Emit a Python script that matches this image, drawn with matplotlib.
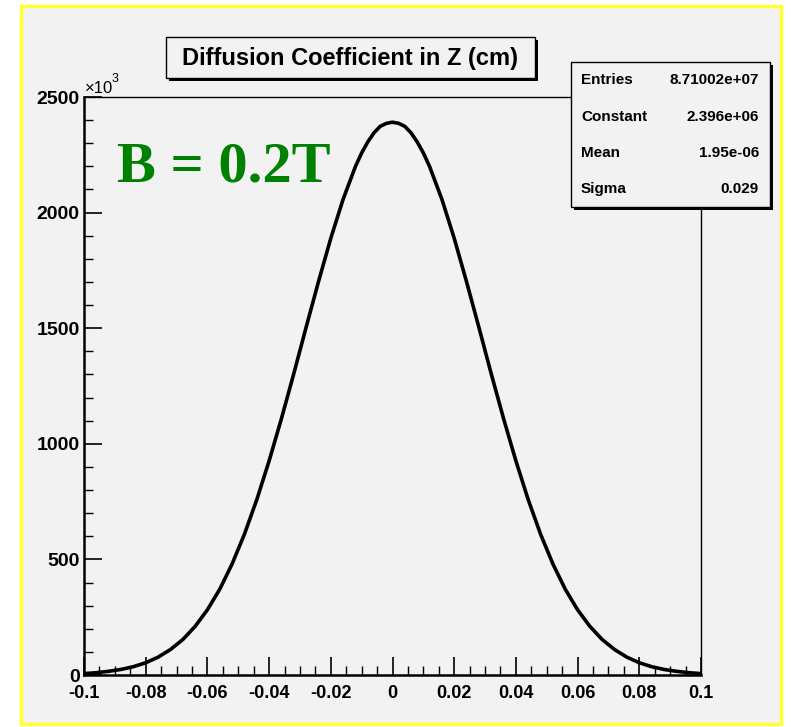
import matplotlib
matplotlib.use('Agg')
import matplotlib.pyplot as plt
from matplotlib.patches import Rectangle
from matplotlib.ticker import MultipleLocator

# ---- data ----
z_cm = [-0.100, -0.096, -0.092, -0.088, -0.084, -0.080, -0.076, -0.072, -0.068,
        -0.064, -0.060, -0.056, -0.052, -0.048, -0.044, -0.040, -0.036, -0.032,
        -0.028, -0.024, -0.020, -0.016, -0.012, -0.010, -0.008, -0.006, -0.004,
        -0.002, 0.000, 0.002, 0.004, 0.006, 0.008, 0.010, 0.012, 0.016, 0.020,
        0.024, 0.028, 0.032, 0.036, 0.040, 0.044, 0.048, 0.052, 0.056, 0.060,
        0.064, 0.068, 0.072, 0.076, 0.080, 0.084, 0.088, 0.092, 0.096, 0.100]
counts_k = [6, 10, 16, 24, 36, 53, 77, 110, 153,
            210, 282, 371, 480, 609, 758, 926, 1109, 1303,
            1504, 1701, 1889, 2058, 2200, 2258, 2306, 2345, 2373,
            2386, 2391, 2386, 2373, 2345, 2306, 2258, 2200, 2058, 1889,
            1701, 1504, 1303, 1109, 926, 758, 609, 480, 371, 282,
            210, 153, 110, 77, 53, 36, 24, 16, 10, 6]

x_ticks = [-0.1, -0.08, -0.06, -0.04, -0.02, 0.0, 0.02, 0.04, 0.06, 0.08, 0.1]
x_tick_labels = ['-0.1', '-0.08', '-0.06', '-0.04', '-0.02', '0',
                 '0.02', '0.04', '0.06', '0.08', '0.1']
y_ticks = [0, 500, 1000, 1500, 2000, 2500]
y_tick_labels = ['0', '500', '1000', '1500', '2000', '2500']

title = 'Diffusion Coefficient in Z (cm)'
stat_names = ['Entries', 'Constant', 'Mean', 'Sigma']
stat_values = ['8.71002e+07', '2.396e+06', '1.95e-06', '0.029']
annotation = 'B = 0.2T'

# ---- layout ----
W, H = 791, 727
BG = '#f2f2f2'
SANS = ['Liberation Sans', 'DejaVu Sans']


def fx(x):
    return x / W


def fy(y):
    return 1 - y / H


fig = plt.figure(figsize=(W / 100, H / 100), dpi=100, facecolor='white')

# yellow-bordered canvas
fig.patches.append(Rectangle((fx(21), fy(724)), (781 - 21) / W, (724 - 6) / H,
                             transform=fig.transFigure, facecolor=BG,
                             edgecolor='#ffff33', lw=2.5, zorder=-5))

ax = fig.add_axes([fx(84), fy(675), (701 - 84) / W, (675 - 97) / H])
ax.set_facecolor(BG)
ax.plot(z_cm, counts_k, color='black', lw=2.6, solid_joinstyle='round', zorder=3)
ax.set_xlim(-0.1, 0.1)
ax.set_ylim(0, 2500)

ax.set_xticks(x_ticks)
ax.set_xticklabels(x_tick_labels)
ax.set_yticks(y_ticks)
ax.set_yticklabels(y_tick_labels)
ax.xaxis.set_minor_locator(MultipleLocator(0.005))
ax.yaxis.set_minor_locator(MultipleLocator(100))
ax.tick_params(which='major', direction='in', length=13, width=1.2,
               top=False, right=False, color='black')
ax.tick_params(which='minor', direction='in', length=6.5, width=1.0,
               top=False, right=False, color='black')
ax.tick_params(axis='x', pad=7.5)
ax.tick_params(axis='y', pad=3)
for lab in ax.get_xticklabels():
    lab.set_fontfamily(SANS)
    lab.set_fontweight('bold')
    lab.set_fontsize(13)
for lab in ax.get_yticklabels():
    lab.set_fontfamily(SANS)
    lab.set_fontweight('bold')
    lab.set_fontsize(14)
for side in ['left', 'bottom']:
    ax.spines[side].set_linewidth(1.8)
for side in ['top', 'right']:
    ax.spines[side].set_linewidth(1.0)

# x10^3 multiplier
fig.text(fx(85), fy(93), '×10', fontfamily=SANS, fontsize=12, va='baseline', ha='left')
fig.text(fx(112), fy(82), '3', fontfamily=SANS, fontsize=9, va='baseline', ha='left')

# title box with shadow
fig.patches.append(Rectangle((fx(169), fy(81)), (535 - 166) / W, (78 - 37) / H,
                             transform=fig.transFigure, facecolor='black',
                             edgecolor='black', lw=0, zorder=4))
fig.patches.append(Rectangle((fx(166), fy(78)), (535 - 166) / W, (78 - 37) / H,
                             transform=fig.transFigure, facecolor=BG,
                             edgecolor='black', lw=1.0, zorder=5))
fig.text(fx(350.5), fy(58), title, fontfamily=SANS, fontweight='bold',
         fontsize=17, ha='center', va='center', zorder=6)

# stats box with shadow
fig.patches.append(Rectangle((fx(574), fy(210)), (770 - 571) / W, (207 - 62) / H,
                             transform=fig.transFigure, facecolor='black',
                             edgecolor='black', lw=0, zorder=4))
fig.patches.append(Rectangle((fx(571), fy(207)), (770 - 571) / W, (207 - 62) / H,
                             transform=fig.transFigure, facecolor=BG,
                             edgecolor='black', lw=1.0, zorder=5))
row_y = [80, 117, 153, 189]
for name, val, yy in zip(stat_names, stat_values, row_y):
    fig.text(fx(581), fy(yy), name, fontfamily=SANS, fontweight='bold',
             fontsize=11, ha='left', va='center', zorder=6)
    fig.text(fx(759), fy(yy), val, fontfamily=SANS, fontweight='bold',
             fontsize=11, ha='right', va='center', zorder=6)

# green annotation
fig.text(fx(117), fy(182), annotation, fontfamily=['Liberation Serif', 'DejaVu Serif'],
         fontweight='bold', fontsize=42, color='#008000', ha='left', va='baseline',
         zorder=6)

fig.savefig('out.png', dpi=100, facecolor='white')
